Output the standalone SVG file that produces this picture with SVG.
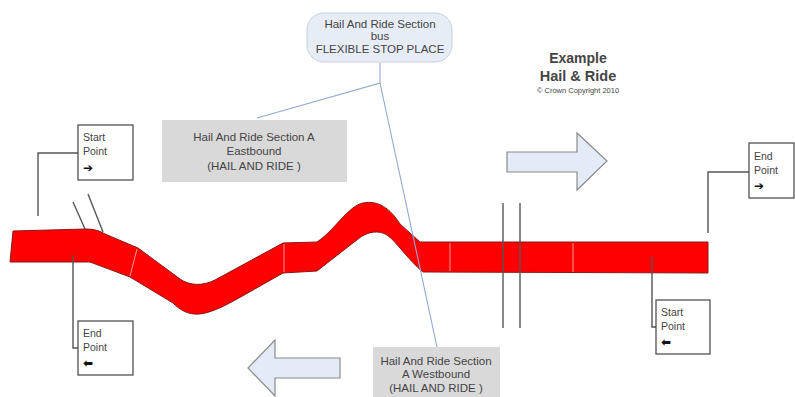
<svg xmlns="http://www.w3.org/2000/svg" width="795" height="397" viewBox="0 0 795 397">
<style>
.t{font-family:"Liberation Sans",Arial,sans-serif;fill:#444;}
.lbl{font-size:10.5px;}
.sec{font-size:11.5px;text-anchor:middle;}
.ar{font-family:"DejaVu Sans",sans-serif;font-size:12px;font-weight:bold;fill:#111;}
.box{fill:#fff;stroke:#444;stroke-width:1.2;}
.lead{fill:none;stroke:#555;stroke-width:1.4;}
.blue{fill:none;stroke:#8ea9d6;stroke-width:1.1;}
.gray{fill:#d9d9d9;}
.big{fill:#e5ebf6;stroke:#8a8a8a;stroke-width:1.2;}
.seg{stroke:#ff9a9a;stroke-width:1;}
</style>
<rect width="795" height="397" fill="#fff"/>

<g id="road">
<path d="M13,231 L85,229 C95,229 100,231 105,234 L138,248 L180,279 C190,286 203,286 215,280 L283,243 L317,242 C335,230 348,206 363,203 C378,200 390,208 400,224 L420,242 L708,242 L708,273 L423,272 C410,262 395,240 387,235 C379,230 368,231 358,239 L317,271 L283,273 L253,290 C230,303 215,312 200,314 C188,315 180,310 173,303 L130,277 L90,262 L10,262 Z" fill="#ff0000" stroke="#8a1a1a" stroke-width="1"/>
<line class="seg" x1="137" y1="249" x2="130" y2="276"/>
<line class="seg" x1="284" y1="244" x2="284" y2="272"/>
<line class="seg" x1="450" y1="243" x2="450" y2="271"/>
<line class="seg" x1="573" y1="243" x2="573" y2="272"/>
</g>

<g id="connectors">
<path class="lead" d="M78,153 H38 V216"/>
<path class="lead" d="M73,255 V348 H78"/>
<path class="lead" d="M749,172 H708 V233"/>
<path class="lead" d="M652,257 V327 H656"/>
<line class="lead" x1="73" y1="202" x2="85" y2="229"/>
<line class="lead" x1="88" y1="194" x2="103" y2="232"/>
<line class="lead" x1="503" y1="203" x2="503" y2="328"/>
<line class="lead" x1="520" y1="203" x2="520" y2="328"/>
<path class="blue" d="M380,63 V83 L257,118 M380,83 L437,347"/>
</g>

<g id="flexible-stop">
<rect x="307" y="13" width="145" height="49" rx="17" ry="17" fill="#e7edf7" stroke="#c9cfd8" stroke-width="1"/>
<text class="t sec" x="380" y="28" font-size="11">Hail And Ride Section</text>
<text class="t sec" x="380" y="40">bus</text>
<text class="t sec" x="380" y="53">FLEXIBLE STOP PLACE</text>
</g>

<g id="eastbound">
<rect class="gray" x="162" y="120" width="185" height="62"/>
<text class="t sec" x="254" y="141">Hail And Ride Section A</text>
<text class="t sec" x="254" y="155">Eastbound</text>
<text class="t sec" x="254" y="170">(HAIL AND RIDE )</text>
</g>

<g id="westbound">
<rect class="gray" x="373" y="347" width="127" height="50"/>
<text class="t sec" x="436" y="365">Hail And Ride Section</text>
<text class="t sec" x="436" y="378">A Westbound</text>
<text class="t sec" x="436" y="392">(HAIL AND RIDE )</text>
</g>

<g id="title">
<text class="t" x="578" y="63" font-size="14" font-weight="bold" text-anchor="middle" fill="#333">Example</text>
<text class="t" x="578" y="81" font-size="14.5" font-weight="bold" text-anchor="middle" fill="#333">Hail &amp; Ride</text>
<text class="t" x="578" y="93" font-size="7.5" text-anchor="middle">© Crown Copyright 2010</text>
</g>

<g id="arrow-east">
<path class="big" d="M507,152 H577 V133 L607,161 L577,190 V172 H507 Z"/>
</g>

<g id="arrow-west">
<path class="big" d="M340,358 H275 V340 L248,368 L275,396 V378 H340 Z"/>
</g>

<g id="start-west">
<rect class="box" x="78" y="125" width="55" height="55"/>
<text class="t lbl" x="83" y="141">Start</text>
<text class="t lbl" x="83" y="155">Point</text>
<text class="ar" x="83" y="172">➔</text>
</g>

<g id="end-west">
<rect class="box" x="78" y="321" width="55" height="54"/>
<text class="t lbl" x="83" y="337">End</text>
<text class="t lbl" x="83" y="351">Point</text>
<text class="ar" x="83" y="367">⬅</text>
</g>

<g id="end-east">
<rect class="box" x="749" y="143" width="45" height="55"/>
<text class="t lbl" x="754" y="160">End</text>
<text class="t lbl" x="754" y="174">Point</text>
<text class="ar" x="754" y="190">➔</text>
</g>

<g id="start-east">
<rect class="box" x="656" y="300" width="54" height="54"/>
<text class="t lbl" x="661" y="316">Start</text>
<text class="t lbl" x="661" y="330">Point</text>
<text class="ar" x="661" y="346">⬅</text>
</g>
</svg>
